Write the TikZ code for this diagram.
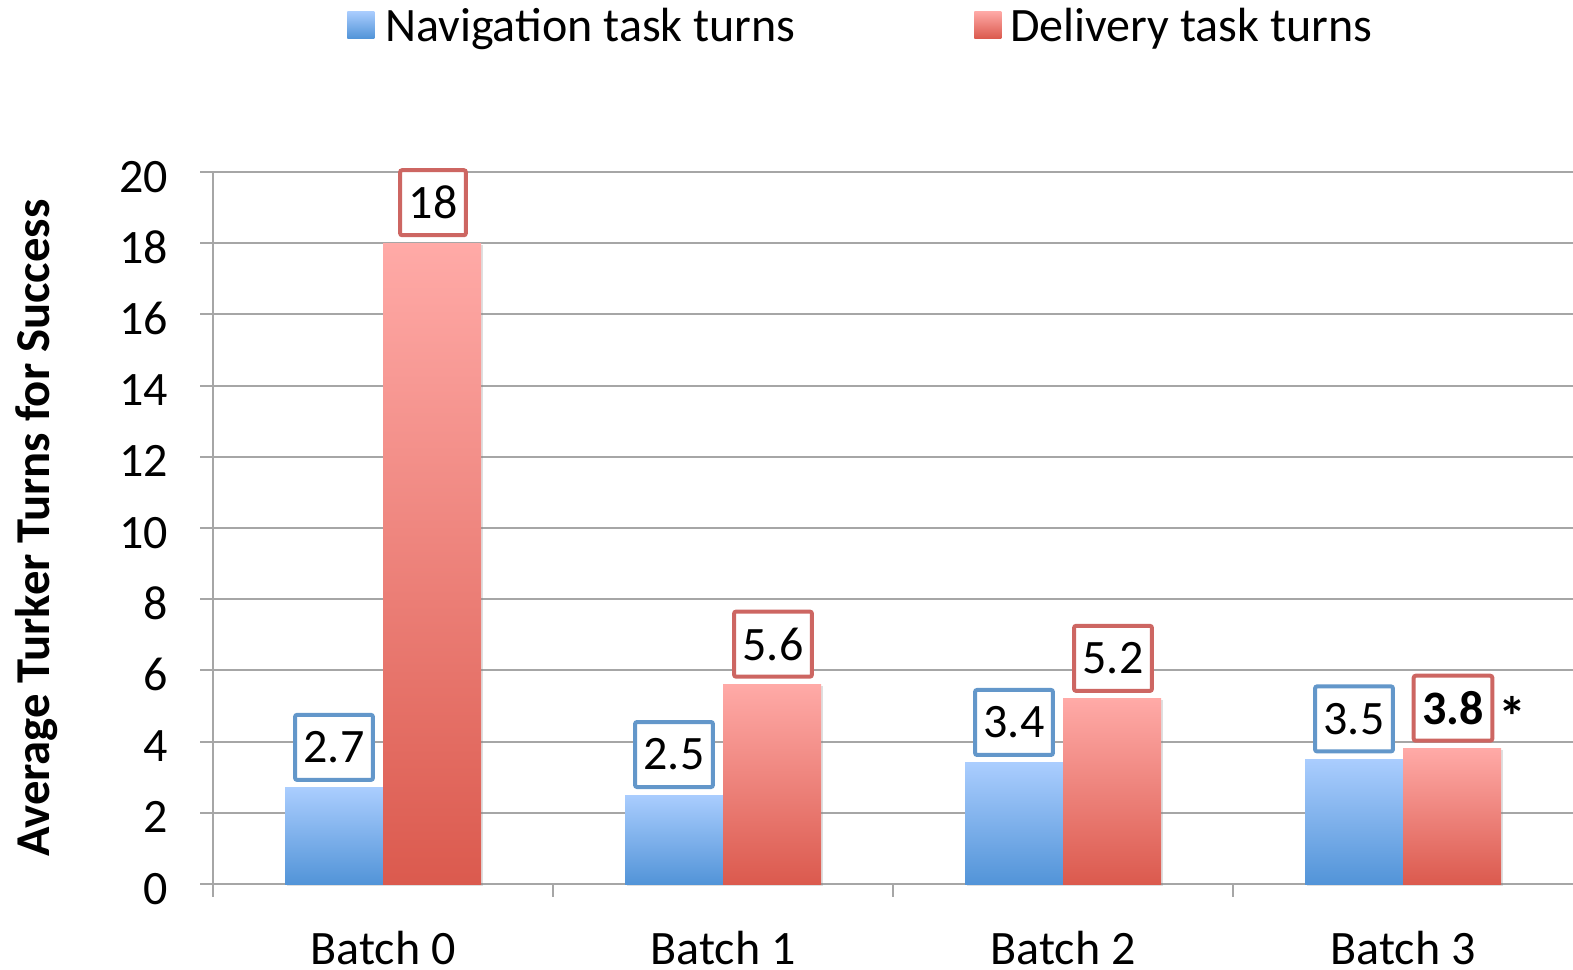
\documentclass[tikz,border=0pt]{standalone}
\usepackage{fontspec}
\setmainfont{Carlito}
\usetikzlibrary{shadows}
\definecolor{gridgray}{HTML}{A6A6A6}
\definecolor{bluetop}{HTML}{AACDFE}
\definecolor{bluebot}{HTML}{5294D8}
\definecolor{redtop}{HTML}{FFAAA7}
\definecolor{redbot}{HTML}{DB5A4E}
\definecolor{blueedge}{HTML}{6397CA}
\definecolor{rededge}{HTML}{CD6662}
\begin{document}
\begin{tikzpicture}[x=0.75pt,y=-0.75pt,
  gridline/.style={draw=gridgray, line width=1.5pt},
  barshadow/.style={drop shadow={opacity=0.25, shadow xshift=1.2pt, shadow yshift=-1.2pt}},
  navbar/.style={top color=bluetop, bottom color=bluebot, draw=none},
  delbar/.style={top color=redtop, bottom color=redbot, draw=none},
  vallabel/.style={fill=white, line width=3pt, rounded corners=1.5pt, inner xsep=6.4pt, inner ysep=0pt, minimum height=48.75pt, font=\fontsize{36}{40}\selectfont},
  navlabel/.style={vallabel, draw=blueedge},
  dellabel/.style={vallabel, draw=rededge},
  ticklabel/.style={anchor=base east, font=\fontsize{36}{40}\selectfont, inner sep=0pt},
  catlabel/.style={anchor=base, font=\fontsize{36}{40}\selectfont, inner sep=0pt},
  legtext/.style={anchor=base west, font=\fontsize{36}{40}\selectfont, inner sep=0pt},
  legbox/.style={minimum size=20.25pt, inner sep=0pt, anchor=north west}
]
\useasboundingbox (0,0) rectangle (1573,970);
% grid lines and y ticks
\foreach \v in {0,2,...,20}{
  \draw[gridline] (200,{884-\v*35.6}) -- (1573,{884-\v*35.6});
  \node[ticklabel] (tick\v) at (168,{884-\v*35.6+20}) {\v};
}
% axes
\draw[gridline] (213,{884-20*35.6}) -- (213,884);
\foreach \t in {213,553,893,1233}{
  \draw[gridline] (\t,884) -- (\t,897);
}
% bars and labels
\foreach \k/\nv/\dv/\dt in {0/2.7/18/18, 1/2.5/5.6/5.6, 2/3.4/5.2/5.2, 3/3.5/3.8/{\textbf{3.8}}}{
  \pgfmathsetmacro\c{383+340*\k}
  \path[navbar, barshadow] (\c-98,884) rectangle (\c,{884-\nv*35.6});
  \path[delbar, barshadow] (\c,884) rectangle (\c+98,{884-\dv*35.6});
  \node[navlabel, anchor=south] (nl\k) at (\c-49,{884-\nv*35.6-6}) {\nv};
  \node[dellabel, anchor=south] (dl\k) at (\c+50,{884-\dv*35.6-6}) {\dt};
  \node[catlabel] (cat\k) at (\c,964) {Batch \k};
}
\node[anchor=west, inner sep=0pt, font=\fontsize{42}{46}\selectfont\bfseries] (star) at (1498,716) {*};
% axis title
\node[rotate=90, anchor=base, inner sep=0pt, font=\fontsize{36.5}{40}\selectfont\bfseries] (ytitle) at (49,528) {Average Turker Turns for Success};
% legend
\node[legbox, top color=bluetop, bottom color=bluebot] (legnav) at (347,11) {};
\node[legtext] (legnavt) at (385,42) {Navigation task turns};
\node[legbox, top color=redtop, bottom color=redbot] (legdel) at (974,11) {};
\node[legtext] (legdelt) at (1010,42) {Delivery task turns};
\end{tikzpicture}
\end{document}
